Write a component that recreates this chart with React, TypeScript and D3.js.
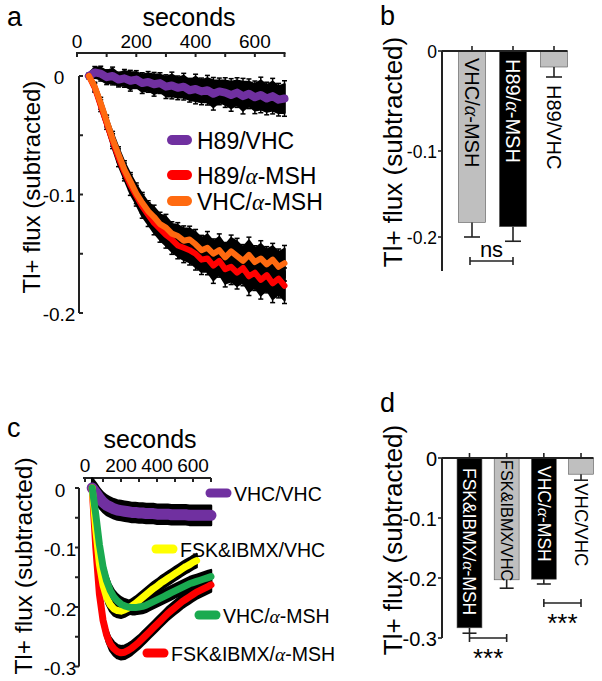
import React from "react";
import * as d3 from "d3";

const FONT = "'Liberation Sans', Arial, Helvetica, sans-serif";

// ---------- shared time grid (seconds) ----------
const TIME = [40, 60, 80, 100, 120, 140, 160, 180, 200, 220, 240, 260, 280, 300, 320, 340, 360, 380, 400, 420,
  440, 460, 480, 500, 520, 540, 560, 580, 600, 620, 640, 660, 680, 700];

// ---------- panel a ----------
const A_H89_VHC = [0.000, 0.003, 0.002, -0.001, 0.000, -0.003, -0.002, -0.004, -0.003, -0.006,
  -0.005, -0.007, -0.006, -0.009, -0.008, -0.010, -0.009, -0.012, -0.011, -0.013,
  -0.012, -0.015, -0.013, -0.014, -0.016, -0.014, -0.017, -0.015, -0.018, -0.016,
  -0.019, -0.017, -0.020, -0.019];
const A_H89_VHC_SEM = [0.002, 0.004, 0.005, 0.005, 0.006, 0.005, 0.006, 0.007, 0.006, 0.007,
  0.007, 0.008, 0.007, 0.008, 0.009, 0.008, 0.009, 0.008, 0.010, 0.009,
  0.010, 0.011, 0.009, 0.010, 0.011, 0.010, 0.012, 0.010, 0.011, 0.012,
  0.011, 0.012, 0.011, 0.012];
const A_H89_MSH = [0.000, -0.010, -0.025, -0.040, -0.055, -0.069, -0.081, -0.092, -0.101, -0.110,
  -0.117, -0.124, -0.129, -0.134, -0.138, -0.143, -0.145, -0.147, -0.150, -0.155,
  -0.154, -0.160, -0.156, -0.163, -0.161, -0.166, -0.162, -0.169, -0.166, -0.172,
  -0.168, -0.175, -0.171, -0.177];
const A_H89_MSH_SEM = [0.001, 0.003, 0.004, 0.004, 0.005, 0.006, 0.006, 0.007, 0.007, 0.008,
  0.008, 0.008, 0.009, 0.009, 0.010, 0.009, 0.010, 0.010, 0.011, 0.010,
  0.011, 0.012, 0.011, 0.012, 0.012, 0.011, 0.012, 0.013, 0.012, 0.013,
  0.012, 0.013, 0.013, 0.012];
const A_VHC_MSH = [0.000, -0.009, -0.023, -0.038, -0.053, -0.066, -0.079, -0.089, -0.099, -0.107,
  -0.114, -0.119, -0.125, -0.128, -0.133, -0.135, -0.139, -0.138, -0.142, -0.147,
  -0.145, -0.150, -0.147, -0.153, -0.148, -0.152, -0.156, -0.151, -0.157, -0.154,
  -0.159, -0.155, -0.161, -0.158];
const A_VHC_MSH_SEM = [0.001, 0.003, 0.004, 0.004, 0.005, 0.005, 0.006, 0.006, 0.007, 0.007,
  0.007, 0.008, 0.008, 0.009, 0.008, 0.009, 0.010, 0.009, 0.010, 0.010,
  0.011, 0.010, 0.011, 0.010, 0.011, 0.012, 0.011, 0.012, 0.011, 0.012,
  0.012, 0.011, 0.012, 0.012];
const A_X_TICKS = [0, 100, 200, 300, 400, 500, 600, 700];
const A_X_LABELS = [0, 200, 400, 600];
const A_Y_TICKS = [0, -0.05, -0.1, -0.15, -0.2];
const A_Y_LABELS = [0, -0.1, -0.2];
const A_LEGEND = ["H89/VHC", "H89/α-MSH", "VHC/α-MSH"];
const A_COLORS = ["#7030a0", "#ff0000", "#ff6a10"];

// ---------- panel b ----------
const B_CATS = ["VHC/α-MSH", "H89/α-MSH", "H89/VHC"];
const B_VALUES = [-0.183, -0.188, -0.016];
const B_ERR = [0.017, 0.017, 0.010];
const B_FILLS = ["#bfbfbf", "#000000", "#bfbfbf"];
const B_Y_TICKS = [0, -0.1, -0.2];

// ---------- panel c ----------
const C_VHC_VHC = [0.000, -0.008, -0.017, -0.024, -0.029, -0.032, -0.035, -0.037, -0.038, -0.039,
  -0.040, -0.041, -0.041, -0.042, -0.042, -0.043, -0.043, -0.043, -0.044, -0.044,
  -0.044, -0.044, -0.045, -0.045, -0.045, -0.045, -0.045, -0.046, -0.046, -0.046,
  -0.046, -0.046, -0.046, -0.046];
const C_FSK_VHC = [0.000, -0.070, -0.128, -0.163, -0.184, -0.196, -0.203, -0.206, -0.207, -0.205,
  -0.202, -0.198, -0.194, -0.189, -0.184, -0.179, -0.174, -0.169, -0.165, -0.160,
  -0.156, -0.152, -0.148, -0.144, -0.140, -0.136, -0.132, -0.129, -0.125, -0.122];
const C_VHC_MSH = [0.000, -0.045, -0.095, -0.132, -0.156, -0.172, -0.183, -0.190, -0.195, -0.198,
  -0.200, -0.201, -0.201, -0.200, -0.199, -0.197, -0.194, -0.191, -0.188, -0.185,
  -0.182, -0.179, -0.176, -0.173, -0.170, -0.167, -0.164, -0.161, -0.159, -0.157,
  -0.155, -0.153, -0.151, -0.149];
const C_FSK_MSH = [0.000, -0.100, -0.178, -0.222, -0.247, -0.262, -0.270, -0.275, -0.277, -0.276,
  -0.273, -0.269, -0.264, -0.259, -0.253, -0.247, -0.241, -0.235, -0.229, -0.223,
  -0.217, -0.211, -0.206, -0.201, -0.196, -0.191, -0.187, -0.183, -0.179, -0.175,
  -0.172, -0.169, -0.166, -0.163];
const C_SEM = [0.016, 0.011, 0.011, 0.011];
const C_X_TICKS = [0, 100, 200, 300, 400, 500, 600, 700];
const C_X_LABELS = [0, 200, 400, 600];
const C_Y_TICKS = [0, -0.05, -0.1, -0.15, -0.2, -0.25, -0.3];
const C_Y_LABELS = [0, -0.1, -0.2, -0.3];
const C_LEGEND = ["VHC/VHC", "FSK&IBMX/VHC", "VHC/α-MSH", "FSK&IBMX/α-MSH"];
const C_COLORS = ["#7030a0", "#ffff00", "#1aaa50", "#ff0000"];

// ---------- panel d ----------
const D_CATS = ["FSK&IBMX/α-MSH", "FSK&IBMX/VHC", "VHC/α-MSH", "VHC/VHC"];
const D_VALUES = [-0.283, -0.203, -0.202, -0.027];
const D_ERR = [0.009, 0.014, 0.008, 0.010];
const D_FILLS = ["#000000", "#bfbfbf", "#000000", "#bfbfbf"];
const D_Y_TICKS = [0, -0.1, -0.2, -0.3];

const AXIS = "#222";

function fmt(v: number) {
  return v === 0 ? "0" : String(v);
}

function Txt({ text }: { text: string }) {
  const parts = text.split("α");
  return (
    <>
      {parts.map((p, i) => (
        <React.Fragment key={i}>
          {i > 0 && <tspan fontFamily="'Liberation Serif', 'Times New Roman', serif" fontStyle="italic">α</tspan>}
          {p}
        </React.Fragment>
      ))}
    </>
  );
}

type Pt = { t: number; v: number; s: number };

function pts(m: number[], s: number[] | number): Pt[] {
  return m.map((v, i) => ({ t: TIME[i], v, s: Array.isArray(s) ? s[i] : s }));
}

function Band({ data, x, y, caps }: { data: Pt[]; x: any; y: any; caps?: boolean }) {
  const area = d3.area<Pt>().x((d) => x(d.t)).y0((d) => y(d.v - d.s)).y1((d) => y(d.v + d.s));
  return (
    <g>
      <path d={area(data) || ""} fill="#000" stroke="#000" strokeWidth={2.5} strokeLinejoin="round" />
      {caps &&
        data.map((d, i) => {
          const cx = x(d.t);
          const yt = y(d.v + d.s * 1.25);
          const yb = y(d.v - d.s * 1.25);
          return (
            <g key={i} stroke="#000" strokeWidth={1.5}>
              <line x1={cx} x2={cx} y1={yt} y2={yb} />
              <line x1={cx - 2.5} x2={cx + 2.5} y1={yt} y2={yt} />
              <line x1={cx - 2.5} x2={cx + 2.5} y1={yb} y2={yb} />
            </g>
          );
        })}
    </g>
  );
}

function Trace({ data, x, y, color, width }: { data: Pt[]; x: any; y: any; color: string; width: number }) {
  const line = d3.line<Pt>().x((d) => x(d.t)).y((d) => y(d.v));
  return <path d={line(data) || ""} fill="none" stroke={color} strokeWidth={width} strokeLinejoin="round" strokeLinecap="round" />;
}

function YTitle({ x, y, size }: { x: number; y: number; size: number }) {
  return (
    <text transform={`translate(${x},${y}) rotate(-90)`} textAnchor="middle" dominantBaseline="central" fontSize={size}>
      Tl+ flux (subtracted)
    </text>
  );
}

export default function App() {
  // ----- panel a scales -----
  const xA = d3.scaleLinear().domain([0, 700]).range([77, 284.5]);
  const yA = d3.scaleLinear().domain([0, -0.2]).range([76, 313]);
  const aSeries = [pts(A_H89_VHC, A_H89_VHC_SEM), pts(A_H89_MSH, A_H89_MSH_SEM), pts(A_VHC_MSH, A_VHC_MSH_SEM)];
  const aWidths = [8, 6, 6];
  const aLegendPos = [
    { x: 167, y: 140 },
    { x: 167, y: 175 },
    { x: 167, y: 201 },
  ];

  // ----- panel b scales -----
  const yB = d3.scaleLinear().domain([0, -0.1, -0.2, -0.24]).range([51, 151, 237, 271]);
  const xB = d3.scaleBand<string>().domain(B_CATS).range([451.5, 574.5]).paddingInner(0.34).paddingOuter(0.17);

  // ----- panel c scales -----
  const xC = d3.scaleLinear().domain([0, 700]).range([85, 211]);
  const yC = d3.scaleLinear().domain([0, -0.3]).range([488, 666.5]);
  const cSeries = [pts(C_VHC_VHC, C_SEM[0]), pts(C_FSK_VHC, C_SEM[1]), pts(C_VHC_MSH, C_SEM[2]), pts(C_FSK_MSH, C_SEM[3])];
  const cWidths = [11, 7, 7, 7];
  const cLegendPos = [
    { x: 206, y: 493 },
    { x: 152, y: 549 },
    { x: 195, y: 615 },
    { x: 143, y: 653 },
  ];

  // ----- panel d scales -----
  const yD = d3.scaleLinear().domain([0, -0.3]).range([458, 638]);
  const xD = d3.scaleBand<string>().domain(D_CATS).range([449.6, 600.9]).paddingInner(0.33).paddingOuter(0.2);

  const bBarLabelStart = [7, 8, null];
  const dBarLabelStart = [10, 2, 8, null];
  const dLabelSize = [17.5, 16.3, 17.5, 18.5];

  return (
    <svg width={602} height={681} style={{ position: "absolute", left: 0, top: 0, background: "#fff" }} fontFamily={FONT}>
      <rect width={602} height={681} fill="#fff" />

      {/* ================= panel a ================= */}
      <text x={7} y={26} fontSize={27}>a</text>
      <text x={189} y={26} fontSize={25} textAnchor="middle">seconds</text>
      <line x1={xA(0) - 1} x2={xA(700) + 1} y1={53} y2={53} stroke={AXIS} strokeWidth={2} />
      {A_X_TICKS.map((t) => (
        <line key={t} x1={xA(t)} x2={xA(t)} y1={53} y2={57} stroke={AXIS} strokeWidth={2} />
      ))}
      {A_X_LABELS.map((t) => (
        <text key={t} x={xA(t)} y={48} fontSize={19} textAnchor="middle">{t}</text>
      ))}
      <line x1={79} x2={79} y1={yA(0)} y2={yA(-0.2)} stroke={AXIS} strokeWidth={2} />
      {A_Y_TICKS.map((v) => (
        <line key={v} x1={79} x2={83} y1={yA(v)} y2={yA(v)} stroke={AXIS} strokeWidth={2} />
      ))}
      {A_Y_LABELS.map((v) => (
        <text key={v} x={59} y={yA(v) + 1} fontSize={19} textAnchor="middle" dominantBaseline="central">{fmt(v)}</text>
      ))}
      <YTitle x={31} y={187} size={24} />
      {aSeries.map((s, i) => (
        <Band key={i} data={s} x={xA} y={yA} caps />
      ))}
      {aSeries.map((s, i) => (
        <Trace key={i} data={s} x={xA} y={yA} color={A_COLORS[i]} width={aWidths[i]} />
      ))}
      {A_LEGEND.map((name, i) => (
        <g key={name}>
          <line x1={aLegendPos[i].x + 5} x2={aLegendPos[i].x + 20} y1={aLegendPos[i].y} y2={aLegendPos[i].y}
            stroke={A_COLORS[i]} strokeWidth={10} strokeLinecap="round" />
          <text x={aLegendPos[i].x + 30} y={aLegendPos[i].y + 1} fontSize={23} dominantBaseline="central"><Txt text={name} /></text>
        </g>
      ))}

      {/* ================= panel b ================= */}
      <text x={380} y={25} fontSize={27}>b</text>
      <YTitle x={393} y={152} size={26} />
      {B_CATS.map((c, i) => {
        const x0 = xB(c)!;
        const bw = xB.bandwidth();
        const cx = x0 + bw / 2;
        const yv = yB(B_VALUES[i]);
        const ye = yB(B_VALUES[i] - B_ERR[i]);
        const inside = bBarLabelStart[i];
        return (
          <g key={c}>
            <rect x={x0} y={yB(0)} width={bw} height={yv - yB(0)} fill={B_FILLS[i]} stroke="#555" strokeWidth={0.6} />
            <line x1={cx} x2={cx} y1={yv} y2={ye} stroke={AXIS} strokeWidth={1.6} />
            <line x1={cx - 8} x2={cx + 8} y1={ye} y2={ye} stroke={AXIS} strokeWidth={1.6} />
            <line x1={cx} x2={cx} y1={yB(0)} y2={yB(0) - 5} stroke={AXIS} strokeWidth={1.6} />
            <text transform={`translate(${cx},${inside != null ? yB(0) + inside : ye + 8}) rotate(90)`}
              dominantBaseline="central" fontSize={20} fill={B_FILLS[i] === "#000000" ? "#fff" : "#000"}>
              <Txt text={c} />
            </text>
          </g>
        );
      })}
      <line x1={442} x2={xB(B_CATS[2])! + xB.bandwidth()} y1={yB(0)} y2={yB(0)} stroke={AXIS} strokeWidth={2} />
      <line x1={442} x2={442} y1={yB(0)} y2={yB(-0.24)} stroke={AXIS} strokeWidth={2} />
      {B_Y_TICKS.map((v) => (
        <g key={v}>
          <line x1={438} x2={442} y1={yB(v)} y2={yB(v)} stroke={AXIS} strokeWidth={1.6} />
          <text x={437} y={yB(v) + 1} fontSize={17.5} textAnchor="end" dominantBaseline="central">{fmt(v)}</text>
        </g>
      ))}
      {(() => {
        const x1 = xB(B_CATS[0])! + xB.bandwidth() / 2 - 2;
        const x2 = xB(B_CATS[1])! + xB.bandwidth() / 2;
        return (
          <g stroke={AXIS} strokeWidth={1.6}>
            <line x1={x1} x2={x2} y1={261} y2={261} />
            <line x1={x1} x2={x1} y1={257} y2={265} />
            <line x1={x2} x2={x2} y1={257} y2={265} />
            <text x={(x1 + x2) / 2} y={257} textAnchor="middle" fontSize={22} stroke="none" fill="#000">ns</text>
          </g>
        );
      })()}

      {/* ================= panel c ================= */}
      <text x={7} y={437} fontSize={27}>c</text>
      <text x={150} y={448} fontSize={25} textAnchor="middle">seconds</text>
      <line x1={xC(0) - 2} x2={xC(700)} y1={478} y2={478} stroke={AXIS} strokeWidth={2} />
      {C_X_TICKS.map((t) => (
        <line key={t} x1={xC(t)} x2={xC(t)} y1={478} y2={482} stroke={AXIS} strokeWidth={2} />
      ))}
      {C_X_LABELS.map((t) => (
        <text key={t} x={xC(t)} y={472} fontSize={19} textAnchor="middle">{t}</text>
      ))}
      <line x1={79} x2={79} y1={yC(0)} y2={yC(-0.3)} stroke={AXIS} strokeWidth={2} />
      {C_Y_TICKS.map((v) => (
        <line key={v} x1={75} x2={79} y1={yC(v)} y2={yC(v)} stroke={AXIS} strokeWidth={2} />
      ))}
      {C_Y_LABELS.map((v) => (
        <text key={v} x={60} y={yC(v) + 2} fontSize={19} textAnchor="middle" dominantBaseline="central">{fmt(v)}</text>
      ))}
      <YTitle x={23} y={566} size={24.5} />
      {cSeries.map((s, i) => (
        <Band key={i} data={s} x={xC} y={yC} />
      ))}
      {[0, 3, 1, 2].map((i) => (
        <Trace key={i} data={cSeries[i]} x={xC} y={yC} color={C_COLORS[i]} width={cWidths[i]} />
      ))}
      {C_LEGEND.map((name, i) => (
        <g key={name}>
          <line x1={cLegendPos[i].x + 4} x2={cLegendPos[i].x + 21} y1={cLegendPos[i].y} y2={cLegendPos[i].y}
            stroke={C_COLORS[i]} strokeWidth={9} strokeLinecap="round" />
          <text x={cLegendPos[i].x + 28} y={cLegendPos[i].y + 1} fontSize={19.5} dominantBaseline="central"><Txt text={name} /></text>
        </g>
      ))}

      {/* ================= panel d ================= */}
      <text x={380} y={412} fontSize={27}>d</text>
      <YTitle x={393} y={540} size={26} />
      {D_CATS.map((c, i) => {
        const x0 = xD(c)!;
        const bw = xD.bandwidth();
        const cx = x0 + bw / 2;
        const yv = yD(D_VALUES[i]);
        const ye = yD(D_VALUES[i] - D_ERR[i]);
        const inside = dBarLabelStart[i];
        return (
          <g key={c}>
            <rect x={x0} y={yD(0)} width={bw} height={yv - yD(0)} fill={D_FILLS[i]} stroke="#555" strokeWidth={0.6} />
            <line x1={cx} x2={cx} y1={yv} y2={ye} stroke={AXIS} strokeWidth={1.6} />
            <line x1={cx - 7} x2={cx + 7} y1={ye} y2={ye} stroke={AXIS} strokeWidth={1.6} />
            <line x1={cx} x2={cx} y1={yD(0)} y2={yD(0) - 5} stroke={AXIS} strokeWidth={1.6} />
            <text transform={`translate(${cx},${inside != null ? yD(0) + inside : ye + 3}) rotate(90)`}
              dominantBaseline="central" fontSize={dLabelSize[i]} fill={D_FILLS[i] === "#000000" ? "#fff" : "#000"}>
              <Txt text={c} />
            </text>
          </g>
        );
      })}
      <line x1={442} x2={xD(D_CATS[3])! + xD.bandwidth()} y1={yD(0)} y2={yD(0)} stroke={AXIS} strokeWidth={2} />
      <line x1={442} x2={442} y1={yD(0)} y2={yD(-0.3)} stroke={AXIS} strokeWidth={2} />
      {D_Y_TICKS.map((v) => (
        <g key={v}>
          <line x1={438} x2={442} y1={yD(v)} y2={yD(v)} stroke={AXIS} strokeWidth={1.6} />
          <text x={437} y={yD(v) + 1} fontSize={20} textAnchor="end" dominantBaseline="central">{fmt(v)}</text>
        </g>
      ))}
      {[
        { a: 0, b: 1, y: 638 },
        { a: 2, b: 3, y: 603 },
      ].map((br, k) => {
        const x1 = xD(D_CATS[br.a])! + xD.bandwidth() / 2;
        const x2 = xD(D_CATS[br.b])! + xD.bandwidth() / 2;
        return (
          <g key={k} stroke={AXIS} strokeWidth={1.6}>
            <line x1={x1} x2={x2} y1={br.y} y2={br.y} />
            <line x1={x1} x2={x1} y1={br.y - 4} y2={br.y + 4} />
            <line x1={x2} x2={x2} y1={br.y - 4} y2={br.y + 4} />
            <text x={(x1 + x2) / 2} y={br.y + 29} textAnchor="middle" fontSize={26} stroke="none" fill="#000">***</text>
          </g>
        );
      })}
    </svg>
  );
}
